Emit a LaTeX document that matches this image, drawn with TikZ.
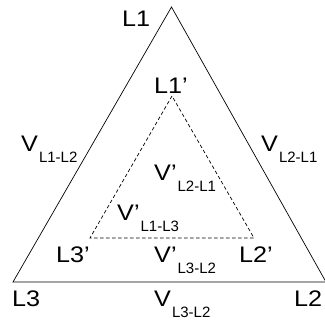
\documentclass[tikz,border=0pt]{standalone}
\usepackage{fontspec}
\setmainfont{Liberation Sans}
\newfontfamily\widefont[FakeStretch=1.12]{Liberation Sans}
\newcommand\lsub[1]{\hspace{1pt}\raisebox{-11pt}{\normalfont\fontsize{15}{15}\selectfont #1}}
\begin{document}
\begin{tikzpicture}[x=1pt,y=-1pt,
  lbl/.style={inner sep=0pt,anchor=base west,font=\widefont\fontsize{22.5}{23}\selectfont},
  side/.style={line width=0.7pt},
  inner/.style={line width=0.7pt,dash pattern=on 3.5pt off 2.5pt}]
\useasboundingbox (0,0) rectangle (325,324);
\coordinate (A) at (171.5,7);
\coordinate (B) at (13,282);
\coordinate (C) at (326,282);
\coordinate (a) at (172,96);
\coordinate (b) at (90,238);
\coordinate (c) at (254,238);
\draw[side] (A) -- (B) -- (C) -- cycle;
\draw[inner] (a) -- (b) -- (c) -- cycle;
\node[lbl] (l1) at (122,27) {L1};
\node[lbl] (l1p) at (154,93) {L1’};
\node[lbl] (v12) at (21,152) {V\lsub{L1-L2}};
\node[lbl] (v21) at (261,152) {V\lsub{L2-L1}};
\node[lbl] (v21p) at (154,181) {V’\lsub{L2-L1}};
\node[lbl] (v13p) at (117,221) {V’\lsub{L1-L3}};
\node[lbl] (l3p) at (56,262) {L3’};
\node[lbl] (v32p) at (154,262) {V’\lsub{L3-L2}};
\node[lbl] (l2p) at (239,262) {L2’};
\node[lbl] (l3) at (12,306) {L3};
\node[lbl] (v32) at (154,306) {V\lsub{L3-L2}};
\node[lbl] (l2) at (294,306) {L2};
\end{tikzpicture}
\end{document}
